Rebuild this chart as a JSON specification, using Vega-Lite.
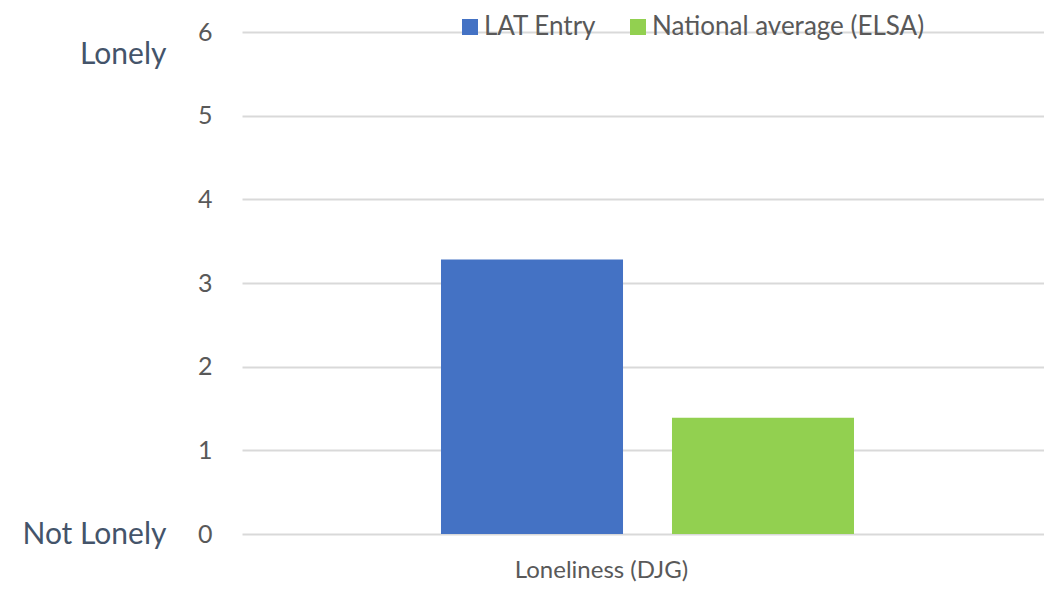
{
  "$schema": "https://vega.github.io/schema/vega-lite/v6.json",
  "width": 811,
  "height": 502,
  "autosize": {"type": "none"},
  "padding": {"left": 242, "top": 32, "right": 0, "bottom": 57},
  "background": "white",
  "config": {"view": {"stroke": null}, "font": "Lato"},
  "data": {
    "values": [
      {"measure": "Loneliness (DJG)", "series": "LAT Entry", "value": 3.28},
      {"measure": "Loneliness (DJG)", "series": "National average (ELSA)", "value": 1.39}
    ]
  },
  "layer": [
    {
      "mark": {"type": "bar"},
      "encoding": {
        "x": {
          "field": "measure",
          "type": "nominal",
          "scale": {"paddingInner": 0, "paddingOuter": 0},
          "axis": {"title": null, "labelAngle": 0, "ticks": false, "domain": false, "labelFontSize": 24, "labelColor": "#595959", "labelPadding": 24, "labelOffset": -46, "labelLimit": 400}
        },
        "xOffset": {
          "field": "series",
          "type": "nominal",
          "scale": {"paddingInner": 0.212, "paddingOuter": 0.8615}
        },
        "y": {
          "field": "value",
          "type": "quantitative",
          "scale": {"domain": [0, 6]},
          "axis": {"title": null, "values": [0, 1, 2, 3, 4, 5, 6], "grid": true, "gridColor": "#D9D9D9", "gridWidth": 2, "ticks": false, "domain": false, "labelFontSize": 25, "labelColor": "#595959", "labelPadding": 30}
        },
        "color": {
          "field": "series",
          "type": "nominal",
          "scale": {"range": ["#4472C4", "#92D050"]},
          "legend": {"title": null, "orient": "none", "legendX": 215, "legendY": -18, "direction": "horizontal", "symbolType": "square", "symbolSize": 256, "symbolOpacity": 1, "symbolStrokeWidth": 0, "labelFontSize": 26, "labelColor": "#595959", "columnPadding": 28, "labelOffset": 1, "labelLimit": 500}
        }
      }
    },
    {
      "mark": {"type": "tick", "opacity": 0},
      "encoding": {
        "y": {
          "field": "value",
          "type": "quantitative",
          "scale": {"domain": [0, 6]},
          "axis": {"orient": "left", "title": null, "values": [0, 5.73], "labelExpr": "datum.value < 1 ? 'Not Lonely' : 'Lonely'", "grid": false, "ticks": false, "domain": false, "labelFontSize": 30, "labelColor": "#44546A", "labelPadding": 76, "labelLimit": 400}
        }
      }
    }
  ],
  "resolve": {"scale": {"y": "independent"}, "axis": {"y": "independent"}}
}
